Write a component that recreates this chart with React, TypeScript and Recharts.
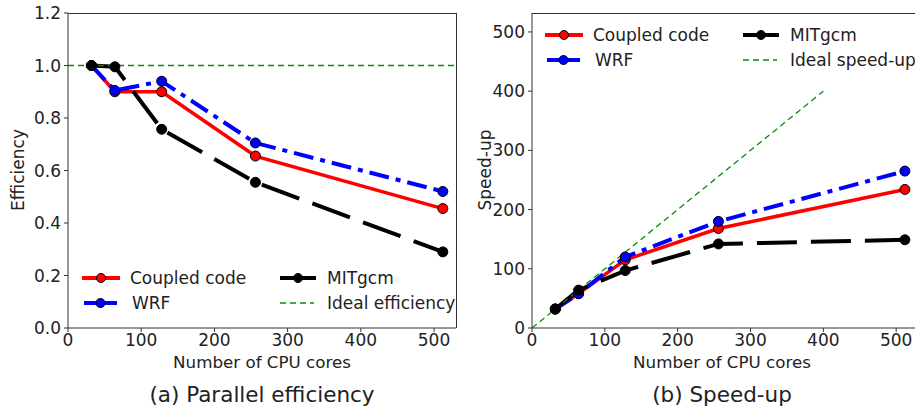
import React from 'react'
import { LineChart, Line, XAxis, YAxis } from 'recharts'

const cores = [32, 64, 128, 256, 512]
const coupledEff = [1.0, 0.9, 0.9, 0.655, 0.455]
const wrfEff = [1.0, 0.905, 0.94, 0.705, 0.52]
const mitgcmEff = [1.0, 0.995, 0.757, 0.555, 0.29]
const coupledSpeed = [32, 58, 115, 168, 234]
const wrfSpeed = [32, 58, 120, 180, 265]
const mitgcmSpeed = [32, 64, 97, 142, 149]
const idealEffX = [0, 530]
const idealEffY = [1, 1]
const idealSpeedX = [0, 400]
const idealSpeedY = [0, 400]
const xTicks = [0, 100, 200, 300, 400, 500]
const effTicks = [0, 0.2, 0.4, 0.6, 0.8, 1.0, 1.2]
const speedTicks = [0, 100, 200, 300, 400, 500]

const FONT = "'DejaVu Sans', sans-serif"
const AXIS = '#333'
const GREEN = '#0a8a0a'

const toPoints = (xs: number[], ys: number[]) => xs.map((x, i) => ({ x, y: ys[i] }))

const makeDot = (fill: string) => (props: any) => {
  const { cx, cy, index } = props
  return <circle key={`d-${index}`} cx={cx} cy={cy} r={5} fill={fill} stroke="#000" strokeWidth={1} />
}

const series = (eff: boolean) => [
  { name: 'Coupled code', color: 'red', width: 3.5, dash: undefined, data: toPoints(cores, eff ? coupledEff : coupledSpeed), marker: 'red' },
  { name: 'WRF', color: 'blue', width: 4, dash: '20 7 5 7', data: toPoints(cores, eff ? wrfEff : wrfSpeed), marker: 'blue' },
  { name: 'MITgcm', color: 'black', width: 4, dash: '40 14', data: toPoints(cores, eff ? mitgcmEff : mitgcmSpeed), marker: 'black' },
]

function Panel({ eff }: { eff: boolean }) {
  const yDomain = eff ? [0, 1.2] : [0, 532]
  const ideal = eff ? toPoints(idealEffX, idealEffY) : toPoints(idealSpeedX, idealSpeedY)
  const tickStyle = { fill: '#222', fontSize: 17, fontFamily: FONT }
  return (
    <LineChart
      width={eff ? 470 : 450}
      height={409}
      margin={{ top: 13, right: eff ? 14 : 2, left: 0, bottom: 0 }}
    >
      <XAxis
        dataKey="x"
        type="number"
        domain={[0, 530]}
        ticks={xTicks}
        allowDataOverflow
        height={81}
        tick={tickStyle}
        tickSize={4}
        tickMargin={2}
        stroke={AXIS}
      />
      <YAxis
        dataKey="y"
        type="number"
        domain={yDomain}
        ticks={eff ? effTicks : speedTicks}
        allowDataOverflow
        width={eff ? 68 : 62}
        tick={tickStyle}
        tickSize={4}
        tickMargin={3}
        tickFormatter={(v: number) => (eff ? v.toFixed(1) : String(v))}
        stroke={AXIS}
      />
      {series(eff).map(s => (
        <Line
          key={s.name}
          data={s.data}
          dataKey="y"
          type="linear"
          stroke={s.color}
          strokeWidth={s.width}
          strokeDasharray={s.dash}
          dot={makeDot(s.marker)}
          activeDot={false}
          isAnimationActive={false}
        />
      ))}
      <Line
        data={ideal}
        dataKey="y"
        type="linear"
        stroke={GREEN}
        strokeWidth={1.3}
        strokeDasharray="6 4"
        dot={false}
        activeDot={false}
        isAnimationActive={false}
      />
    </LineChart>
  )
}

function LegendItem({ x, y, color, width, dashed, marker, len }: any) {
  return (
    <div style={{ position: 'absolute', left: x, top: y - 12, height: 24, display: 'flex', alignItems: 'center', whiteSpace: 'nowrap' }}>
      <svg width={len} height={12} style={{ overflow: 'visible' }}>
        <line x1={0} y1={6} x2={len} y2={6} stroke={color} strokeWidth={width} strokeDasharray={dashed ? '6 4' : undefined} />
        {marker && <circle cx={len / 2} cy={6} r={4.5} fill={color} stroke="#000" strokeWidth={1} />}
      </svg>
    </div>
  )
}

function LegendText({ x, y, text }: any) {
  return (
    <div style={{ position: 'absolute', left: x, top: y - 12, height: 24, lineHeight: '24px', fontSize: 17, fontFamily: FONT, color: '#222', whiteSpace: 'nowrap' }}>
      {text}
    </div>
  )
}

function Legend({ x, y, idealLabel }: { x: number; y: number; idealLabel: string }) {
  const col2 = x + 198
  return (
    <>
      <LegendItem x={x} y={y} color="red" width={4} marker len={38} />
      <LegendText x={x + 48} y={y} text="Coupled code" />
      <LegendItem x={x + 2} y={y + 25} color="blue" width={4} marker len={33} />
      <LegendText x={x + 50} y={y + 25} text="WRF" />
      <LegendItem x={col2} y={y} color="black" width={4} marker len={36} />
      <LegendText x={col2 + 47} y={y} text="MITgcm" />
      <LegendItem x={col2} y={y + 25} color={GREEN} width={1.3} dashed len={34} />
      <LegendText x={col2 + 47} y={y + 25} text={idealLabel} />
    </>
  )
}

function Label({ x, y, text, size, rotate }: any) {
  return (
    <div
      style={{
        position: 'absolute',
        left: x,
        top: y,
        transform: `translate(-50%, -50%)${rotate ? ' rotate(-90deg)' : ''}`,
        fontSize: size,
        fontFamily: FONT,
        color: '#222',
        whiteSpace: 'nowrap',
      }}
    >
      {text}
    </div>
  )
}

// top and right spines of each axes box
function Frame({ left, width }: { left: number; width: number }) {
  return (
    <div
      style={{
        position: 'absolute',
        left,
        top: 13,
        width,
        height: 315,
        borderTop: `1px solid ${AXIS}`,
        borderRight: `1px solid ${AXIS}`,
        boxSizing: 'border-box',
        pointerEvents: 'none',
      }}
    />
  )
}

export default function App() {
  return (
    <div style={{ position: 'absolute', left: 0, top: 0, width: 915, height: 409, overflow: 'hidden', background: '#fff' }}>
      <div style={{ position: 'absolute', left: 0, top: 0 }}>
        <Panel eff />
      </div>
      <div style={{ position: 'absolute', left: 470, top: 0 }}>
        <Panel eff={false} />
      </div>
      <Frame left={68} width={389} />
      <Frame left={532} width={387} />
      <Legend x={82} y={278} idealLabel="Ideal efficiency" />
      <Legend x={545} y={35} idealLabel="Ideal speed-up" />
      <Label x={18} y={170} text="Efficiency" size={17} rotate />
      <Label x={485} y={170} text="Speed-up" size={17} rotate />
      <Label x={262} y={362} text="Number of CPU cores" size={16.7} />
      <Label x={722} y={362} text="Number of CPU cores" size={16.7} />
      <Label x={262} y={394} text="(a) Parallel efficiency" size={21.5} />
      <Label x={722} y={394} text="(b) Speed-up" size={21.5} />
    </div>
  )
}
